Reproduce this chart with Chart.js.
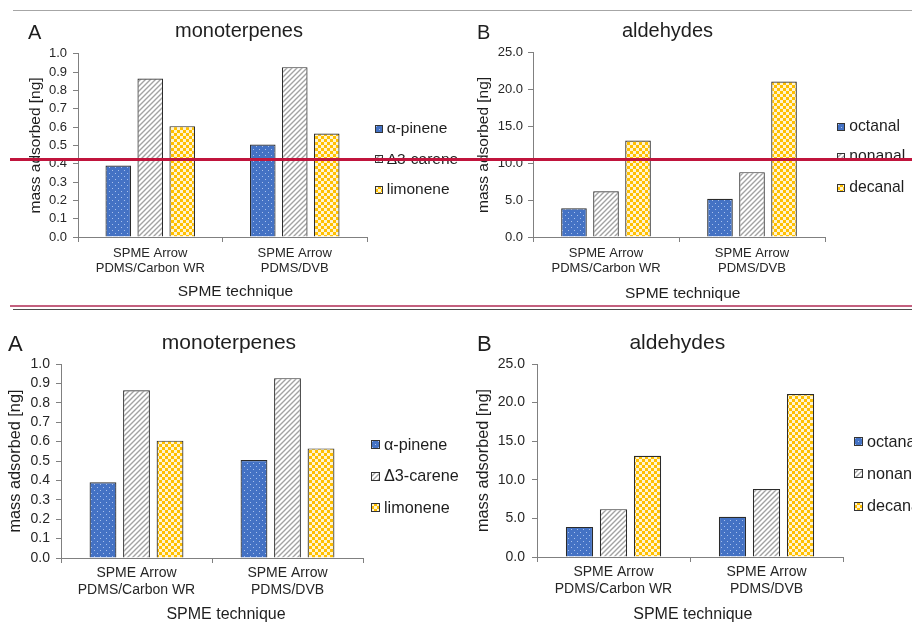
<!DOCTYPE html>
<html>
<head>
<meta charset="utf-8">
<script src="https://cdn.jsdelivr.net/npm/chart.js@4"></script>
<style>
  body { margin: 0; background: #fff; }
  #page { position: relative; width: 912px; height: 625px; overflow: hidden; background: #fff;
          font-family: 'Liberation Sans', Arial, sans-serif; color: #1e1e1e; }
  canvas.panel { position: absolute; }
  .txt { position: absolute; white-space: nowrap; }
  .rule { position: absolute; }
</style>
</head>
<body>
<div id="page">
  <canvas id="tl" class="panel" width="380" height="270" style="left:0;top:40px"></canvas>
  <canvas id="tr" class="panel" width="456" height="270" style="left:456px;top:40px"></canvas>
  <canvas id="bl" class="panel" width="380" height="295" style="left:0;top:330px"></canvas>
  <canvas id="br" class="panel" width="456" height="295" style="left:456px;top:330px"></canvas>

  <div class="rule" style="left:13px;top:10px;width:899px;height:1px;background:#a6a6a6"></div>
  <div class="rule" style="left:10px;top:305px;width:902px;height:2px;background:#c4607f"></div>
  <div class="rule" style="left:13px;top:309px;width:899px;height:1px;background:#4d4d4d"></div>
</div>

<script>
// data
const categories = [['SPME Arrow', 'PDMS/Carbon WR'], ['SPME Arrow', 'PDMS/DVB']];

const monoNames = ['α-pinene', 'Δ3-carene', 'limonene'];
const alphaPinene = [0.39, 0.505];
const delta3Carene = [0.865, 0.927];
const limonene = [0.605, 0.565];
const monoTicks = ['0.0', '0.1', '0.2', '0.3', '0.4', '0.5', '0.6', '0.7', '0.8', '0.9', '1.0'];

const aldNames = ['octanal', 'nonanal', 'decanal'];
const octanal = [3.9, 5.2];
const nonanal = [6.2, 8.8];
const decanal = [13.1, 21.1];
const aldTicks = ['0.0', '5.0', '10.0', '15.0', '20.0', '25.0'];

const FONT = "'Liberation Sans', Arial, sans-serif";
const page = document.getElementById('page');

// fill patterns like the Excel ones
function makePattern(kind) {
    const c = document.createElement('canvas');
    const g = c.getContext('2d');
    if (kind === 'dots') {
        c.width = 6; c.height = 6;
        g.fillStyle = '#4472c4';
        g.fillRect(0, 0, 6, 6);
        g.fillStyle = '#a9c1ec';
        g.fillRect(1, 1, 1, 1);
        g.fillRect(4, 4, 1, 1);
    } else if (kind === 'hatch') {
        c.width = 5; c.height = 5;
        g.fillStyle = '#fff';
        g.fillRect(0, 0, 5, 5);
        g.strokeStyle = '#a3a3a3';
        g.lineWidth = 1.4;
        g.beginPath();
        g.moveTo(-1, 6); g.lineTo(6, -1);
        g.moveTo(-1, 1); g.lineTo(1, -1);
        g.moveTo(4, 6); g.lineTo(6, 4);
        g.stroke();
    } else {
        c.width = 6; c.height = 6;
        g.fillStyle = '#ffc000';
        g.fillRect(0, 0, 6, 6);
        g.fillStyle = '#fff4d2';
        g.fillRect(0, 0, 3, 3);
        g.fillRect(3, 3, 3, 3);
    }
    return g.createPattern(c, 'repeat');
}
const fills = [makePattern('dots'), makePattern('hatch'), makePattern('check')];

function addText(txt, x, base, size, center) {
    const d = document.createElement('div');
    d.className = 'txt';
    d.textContent = txt;
    d.style.fontSize = size + 'px';
    d.style.lineHeight = size + 'px';
    d.style.top = (base - 0.8465 * size) + 'px';
    d.style.left = x + 'px';
    if (center) d.style.transform = 'translateX(-50%)';
    page.appendChild(d);
    return d;
}

function addLegend(names, x, textX, bases, size, box) {
    names.forEach((n, i) => {
        const s = document.createElement('canvas');
        s.width = box; s.height = box;
        s.style.position = 'absolute';
        s.style.left = x + 'px';
        s.style.top = (bases[i] - box - 0.5) + 'px';
        const g = s.getContext('2d');
        g.fillStyle = fills[i];
        g.fillRect(0, 0, box, box);
        g.strokeStyle = '#333';
        g.strokeRect(0.5, 0.5, box - 1, box - 1);
        page.appendChild(s);
        addText(n, textX, bases[i], size, false);
    });
}

function panel(id, names, series, ticks, max, step, geo) {
    new Chart(document.getElementById(id), {
        type: 'bar',
        data: {
            labels: categories,
            datasets: series.map((vals, i) => ({
                label: names[i],
                data: vals,
                backgroundColor: fills[i],
                borderColor: '#2b2b2b',
                borderWidth: 1.2,
                categoryPercentage: geo.cat,
                barPercentage: 0.8
            }))
        },
        options: {
            responsive: false,
            animation: false,
            layout: { padding: { top: geo.padTop, right: geo.padRight, left: 0, bottom: 0 } },
            plugins: { legend: { display: false }, tooltip: { enabled: false } },
            scales: {
                x: {
                    grid: { drawOnChartArea: false, tickLength: 5, color: '#808080' },
                    border: { color: '#808080' },
                    ticks: {
                        font: { family: FONT, size: geo.tick, lineHeight: geo.lh },
                        color: '#262626', padding: geo.xPad, maxRotation: 0, autoSkip: false
                    },
                    afterFit: s => { s.height = geo.xH; }
                },
                y: {
                    min: 0, max: max,
                    grid: { drawOnChartArea: false, tickLength: 5, color: '#808080' },
                    border: { color: '#808080' },
                    ticks: {
                        stepSize: step,
                        autoSkip: false,
                        font: { family: FONT, size: geo.tick },
                        color: '#262626', padding: geo.yPad,
                        callback: (v, i) => ticks[i]
                    },
                    title: {
                        display: true, text: 'mass adsorbed [ng]', color: '#1e1e1e',
                        font: { family: FONT, size: geo.title, lineHeight: 1.2 },
                        padding: { top: geo.titlePad, bottom: 0 }
                    },
                    afterFit: s => { s.width = geo.yW; }
                }
            }
        }
    });
}

const monoSeries = [alphaPinene, delta3Carene, limonene];
const aldSeries = [octanal, nonanal, decanal];

// top row
panel('tl', monoNames, monoSeries, monoTicks, 1, 0.1,
    { padTop: 12, padRight: 13, yW: 78, xH: 73, tick: 13, lh: 1.15, xPad: 4, yPad: 6, title: 15.5, titlePad: 26, cat: 0.664 });
panel('tr', aldNames, aldSeries, aldTicks, 25, 5,
    { padTop: 12, padRight: 87, yW: 77, xH: 73, tick: 13, lh: 1.15, xPad: 4, yPad: 5, title: 15.5, titlePad: 18, cat: 0.658 });
// bottom row
panel('bl', monoNames, monoSeries, monoTicks, 1, 0.1,
    { padTop: 34, padRight: 17, yW: 61, xH: 67, tick: 14, lh: 1.2, xPad: 2, yPad: 6, title: 16.3, titlePad: 6, cat: 0.666 });
panel('br', aldNames, aldSeries, aldTicks, 25, 5,
    { padTop: 34, padRight: 69, yW: 81, xH: 68, tick: 14, lh: 1.2, xPad: 2, yPad: 7, title: 16.3, titlePad: 18, cat: 0.667 });

// panel letters, titles, x axis titles
addText('A', 28, 39.3, 20, false);
addText('monoterpenes', 239, 37.3, 20, true);
addText('SPME technique', 235.5, 296.3, 15.5, true);
addText('B', 477, 39.3, 20, false);
addText('aldehydes', 667.5, 37.3, 20, true);
addText('SPME technique', 682.7, 297.7, 15.5, true);

addText('A', 8, 351.7, 22, false);
addText('monoterpenes', 229, 348.3, 21, true);
addText('SPME technique', 226, 620, 16, true);
addText('B', 477, 351.7, 22, false);
addText('aldehydes', 677.3, 348.3, 21, true);
addText('SPME technique', 692.8, 620, 16, true);

// legends
addLegend(monoNames, 375, 386.7, [133.5, 163.8, 194.3], 15.5, 8);
addLegend(aldNames, 837, 849.3, [131, 161.5, 192], 15.7, 8);
addLegend(monoNames, 371, 384, [449.3, 481.2, 512.3], 16.2, 9);
addLegend(aldNames, 854, 867, [446.7, 478.7, 511], 16.2, 9);

// red marker line across the top row
const red = document.createElement('div');
red.className = 'rule';
red.style.cssText = 'left:10px;top:158px;width:902px;height:3px;background:#c0143c;z-index:5';
page.appendChild(red);
</script>
</body>
</html>
